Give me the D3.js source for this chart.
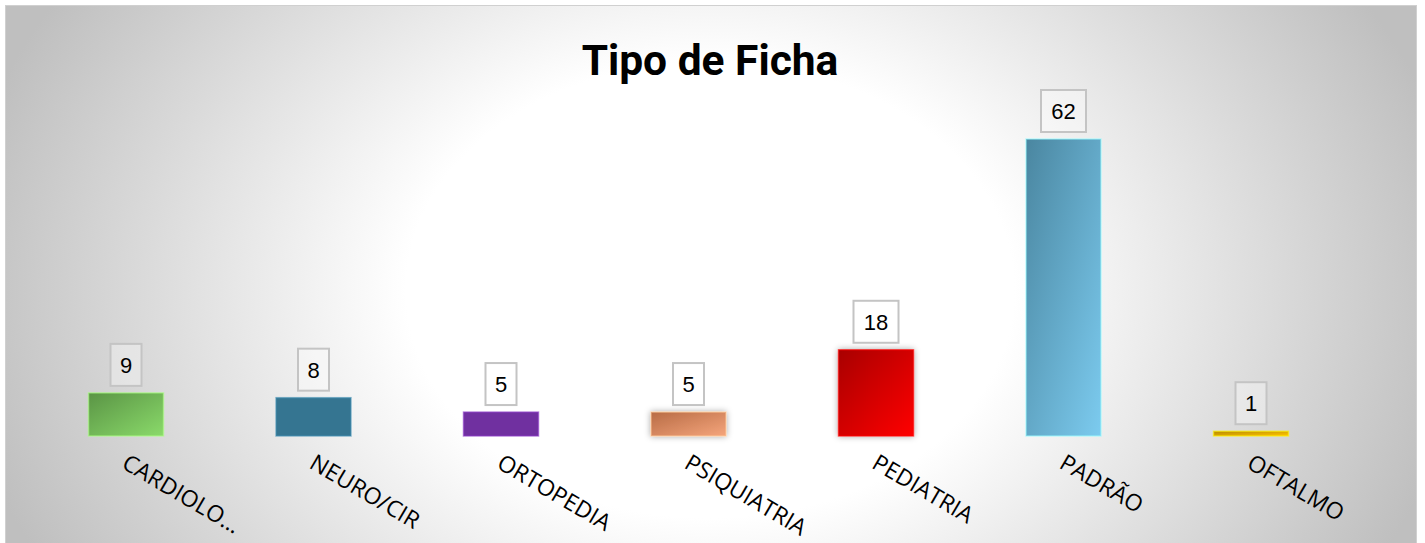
<!DOCTYPE html>
<html><head><meta charset="utf-8">
<script src="https://cdn.jsdelivr.net/npm/d3@7"></script>
<style>html,body{margin:0;padding:0;background:#fff;}svg{display:block;}</style>
</head><body>
<svg id="c" width="1425" height="543"></svg>
<script>
const categories = ["CARDIOLO...", "NEURO/CIR", "ORTOPEDIA", "PSIQUIATRIA", "PEDIATRIA", "PADRÃO", "OFTALMO"];
const values = [9, 8, 5, 5, 18, 62, 1];
const colorsDark = ["#5a9445", "#357591", "#7030a0", "#b86c45", "#a80000", "#4a86a0", "#b88a00"];
const colorsLight = ["#8ada6a", "#357591", "#7030a0", "#f5a57c", "#ff0000", "#7ccbef", "#ffc400"];
const title = "Tipo de Ficha";

const W = 1425, H = 543;
const svg = d3.select("#c");
const defs = svg.append("defs");

const bg = defs.append("radialGradient").attr("id","bg")
  .attr("gradientUnits","userSpaceOnUse").attr("cx",710).attr("cy",290).attr("r",760)
  .attr("gradientTransform","translate(710,290) scale(1,0.75) translate(-710,-290)");
bg.append("stop").attr("offset","0%").attr("stop-color","#ffffff");
bg.append("stop").attr("offset","40%").attr("stop-color","#ffffff");
bg.append("stop").attr("offset","100%").attr("stop-color","#bfbfbf");

svg.append("rect").attr("x",5.5).attr("y",5.5).attr("width",1411).attr("height",545)
  .attr("fill","url(#bg)").attr("stroke","#d0d0d0").attr("stroke-width",1);

categories.forEach((c,i)=>{
  const g = defs.append("linearGradient").attr("id","g"+i)
    .attr("x1","0").attr("y1","0").attr("x2","1").attr("y2","1");
  g.append("stop").attr("offset","0%").attr("stop-color",colorsDark[i]);
  g.append("stop").attr("offset","100%").attr("stop-color",colorsLight[i]);
});
const sh = defs.append("filter").attr("id","sh").attr("x","-30%").attr("y","-30%").attr("width","160%").attr("height","160%");
sh.append("feGaussianBlur").attr("in","SourceAlpha").attr("stdDeviation",3).attr("result","b");
sh.append("feFlood").attr("flood-color","#000").attr("flood-opacity",0.35);
sh.append("feComposite").attr("in2","b").attr("operator","in").attr("result","s");
const m = sh.append("feMerge"); m.append("feMergeNode").attr("in","s"); m.append("feMergeNode").attr("in","SourceGraphic");

const x = d3.scaleBand().domain(categories).range([32.25, 1344.75]).paddingInner(0.6).paddingOuter(0.3);
const y = d3.scaleLinear().domain([0, 62]).range([436, 139]);

svg.append("text").attr("x",710).attr("y",75).attr("text-anchor","middle")
  .attr("font-family","Roboto").attr("font-weight","bold").attr("font-size",42.5)
  .attr("fill","#000").text(title);

const bars = svg.append("g");
categories.forEach((c,i)=>{
  const bx = x(c), bw = x.bandwidth(), top = y(values[i]);
  bars.append("rect").attr("x",bx).attr("y",top).attr("width",bw).attr("height",y(0)-top)
    .attr("fill","url(#g"+i+")")
    .attr("stroke", d3.color(colorsLight[i]).brighter(0.6)).attr("stroke-opacity",0.6).attr("stroke-width",1.5)
    .attr("filter", (i===3||i===4) ? "url(#sh)" : null);
  const cx = bx + bw/2;
  const txt = String(values[i]);
  const bwid = txt.length===1 ? 31 : 45;
  bars.append("rect").attr("x",cx-bwid/2).attr("y",top-49).attr("width",bwid).attr("height",42)
    .attr("fill","#ffffff").attr("fill-opacity",0.35).attr("stroke","#c4c4c4").attr("stroke-width",2);
  bars.append("text").attr("x",cx).attr("y",top-20).attr("text-anchor","middle")
    .attr("font-family","Liberation Sans, Arial").attr("font-size",22).attr("fill","#000").text(txt);
  bars.append("text").attr("transform",`translate(${cx+3},${453}) rotate(30.5)`)
    .attr("dy","0.72em").attr("text-anchor","start")
    .attr("font-family","Open Sans").attr("font-size",23).attr("fill","#000").text(c);
});
</script>
</body></html>
